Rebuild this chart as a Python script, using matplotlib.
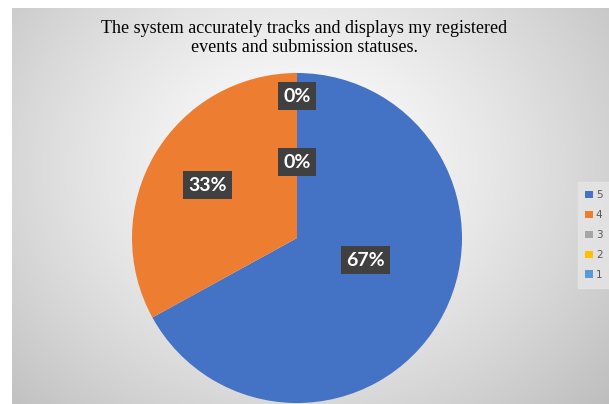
import numpy as np
import matplotlib
matplotlib.use("Agg")
import matplotlib.pyplot as plt
from matplotlib.patches import Rectangle

title = "The system accurately tracks and displays my registered\nevents and submission statuses."
categories = ["5", "4", "3", "2", "1"]
values = [67, 33, 0, 0, 0]
colors = ["#4472C4", "#ED7D31", "#A5A5A5", "#FFC000", "#5B9BD5"]
label_dist = [0.40, 0.63, 0.46, 0.86, 0.86]

W, H = 609, 404
fig = plt.figure(figsize=(W / 100, H / 100), dpi=100)
fig.patch.set_facecolor("white")

# background radial gradient (chart area)
bx0, by0 = 12 / W, 0.0
bw, bh = 1 - bx0, (H - 8) / H
bg = fig.add_axes([bx0, by0, bw, bh])
nx, ny = 400, 260
xx, yy = np.meshgrid(np.linspace(0, 1, nx), np.linspace(0, 1, ny))
cx, cy = 0.48, 0.6
d = np.sqrt(((xx - cx) / 0.62) ** 2 + ((yy - cy) / 0.8) ** 2)
v = 1.0 - 0.22 * np.clip(d, 0, 1.2) ** 1.3
bg.imshow(np.dstack([v, v, v]), extent=[0, 1, 0, 1], aspect="auto", origin="lower",
          vmin=0, vmax=1)
bg.set_axis_off()

# pie
r = 165
cxp, cyp = 297, 238
ax = fig.add_axes([(cxp - r) / W, (H - cyp - r) / H, 2 * r / W, 2 * r / H])
wedges, _ = ax.pie(values, colors=colors, startangle=90, counterclock=False,
                   radius=1.0, wedgeprops=dict(linewidth=0))
ax.set_xlim(-1, 1)
ax.set_ylim(-1, 1)
ax.set_aspect("auto")
ax.set_axis_off()

for w, val, dist in zip(wedges, values, label_dist):
    ang = np.deg2rad((w.theta1 + w.theta2) / 2)
    x, y = dist * np.cos(ang), dist * np.sin(ang)
    if val == 67:
        x, y = x + 0.07, y + 0.07
    ax.text(x, y, f"{val}%", ha="center", va="center", color="white",
            fontsize=14, fontweight="bold", family="Lato",
            bbox=dict(boxstyle="square,pad=0.28", fc="#404040", ec="none"))

fig.text(0.5 - 0.0, 1 - 38 / H, title, ha="center", va="center",
         family="Liberation Serif", fontsize=13, color="black", linespacing=1.2)

# legend
handles = [Rectangle((0, 0), 1, 1, fc=c, ec="none") for c in colors]
leg = fig.legend(handles, categories, loc="center", bbox_to_anchor=(594 / W, 1 - 235 / H),
                 frameon=True, fontsize=7.5, handlelength=0.7, handleheight=0.7,
                 handletextpad=0.3, labelspacing=0.95, borderpad=0.45, borderaxespad=0,
                 labelcolor="#595959")
leg.get_frame().set_facecolor("#E6E6E6")
leg.get_frame().set_edgecolor("#E6E6E6")
leg.get_frame().set_boxstyle("square")

fig.savefig("out.png", dpi=100)
